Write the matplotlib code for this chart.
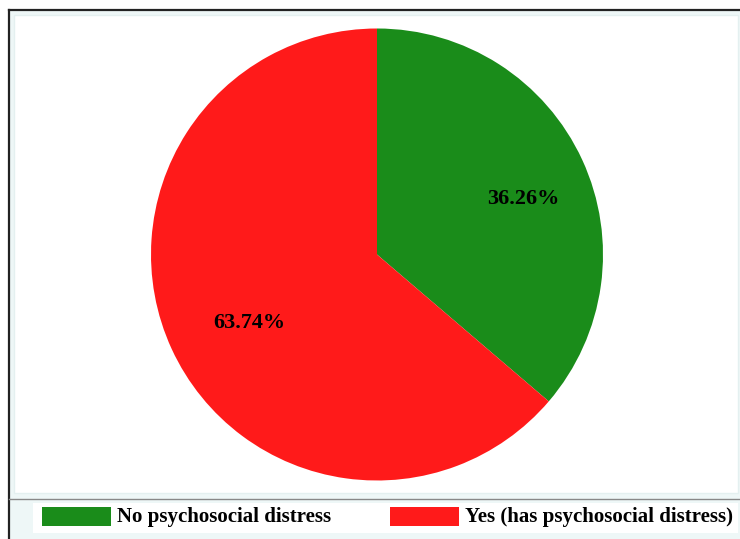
import matplotlib
matplotlib.use('Agg')
import matplotlib.pyplot as plt
import numpy as np
from matplotlib.patches import Rectangle
from matplotlib.lines import Line2D

labels = ['No psychosocial distress', 'Yes (has psychosocial distress)']
shares = [36.26, 63.74]
colors = ['#1a8c1a', '#ff1a1a']

W, H = 740, 539


def fx(x):
    return x / W


def fy(y):
    # y measured from the top of the image
    return 1 - y / H


fig = plt.figure(figsize=(W / 100, H / 100), dpi=100)
fig.patch.set_facecolor('white')

# outer frame and light background
fig.patches.append(Rectangle((fx(9), 0), 1 - fx(9), fy(10), transform=fig.transFigure,
                             facecolor='#eef7f7', edgecolor='none', zorder=-2))
fig.lines.append(Line2D([fx(9), 1], [fy(10), fy(10)], transform=fig.transFigure,
                        color='#222222', lw=1.6))
fig.lines.append(Line2D([fx(9), fx(9)], [0, fy(10)], transform=fig.transFigure,
                        color='#222222', lw=1.6))
# white plot area
fig.patches.append(Rectangle((fx(14), fy(493)), fx(738) - fx(14), fy(15) - fy(493),
                             transform=fig.transFigure, facecolor='white',
                             edgecolor='#e4f0f0', lw=1, zorder=-1))
# separator above legend
fig.lines.append(Line2D([fx(9), 1], [fy(499), fy(499)], transform=fig.transFigure,
                        color='#888888', lw=1.0))
# white legend box
fig.patches.append(Rectangle((fx(33), fy(533)), fx(738) - fx(33), fy(503) - fy(533),
                             transform=fig.transFigure, facecolor='white',
                             edgecolor='none', zorder=-1))

# pie, radius 226 px centred at (377, 254.5)
ax = fig.add_axes([fx(151), fy(480.5), fx(452), 452 / H])
ax.set_zorder(3)
ax.patch.set_visible(False)
wedges, texts, autotexts = ax.pie(shares, colors=colors, startangle=90, counterclock=False,
                                  autopct='%.2f%%', pctdistance=0.6,
                                  wedgeprops={'linewidth': 0})
# label placement tweaks (radius, angle offset in degrees)
label_r = [0.69, 0.64]
label_dang = [-4, 3.5]
for w, t, r, da in zip(wedges, autotexts, label_r, label_dang):
    ang = np.deg2rad((w.theta1 + w.theta2) / 2 + da)
    t.set_position((r * np.cos(ang), r * np.sin(ang)))
    t.set_fontfamily('Liberation Serif')
    t.set_fontweight('bold')
    t.set_fontsize(16)
    t.set_color('black')
ax.set_xlim(-1, 1)
ax.set_ylim(-1, 1)
ax.set_aspect('equal')
ax.axis('off')

# legend items
patch_x = [42, 390]
for px, lab, col in zip(patch_x, labels, colors):
    fig.patches.append(Rectangle((fx(px), fy(526)), fx(69), fy(507) - fy(526),
                                 transform=fig.transFigure, facecolor=col, edgecolor='none'))
    fig.text(fx(px + 75), fy(517), lab, fontfamily='Liberation Serif', fontweight='bold',
             fontsize=15, va='center', ha='left')

fig.savefig('out.png', dpi=100)
